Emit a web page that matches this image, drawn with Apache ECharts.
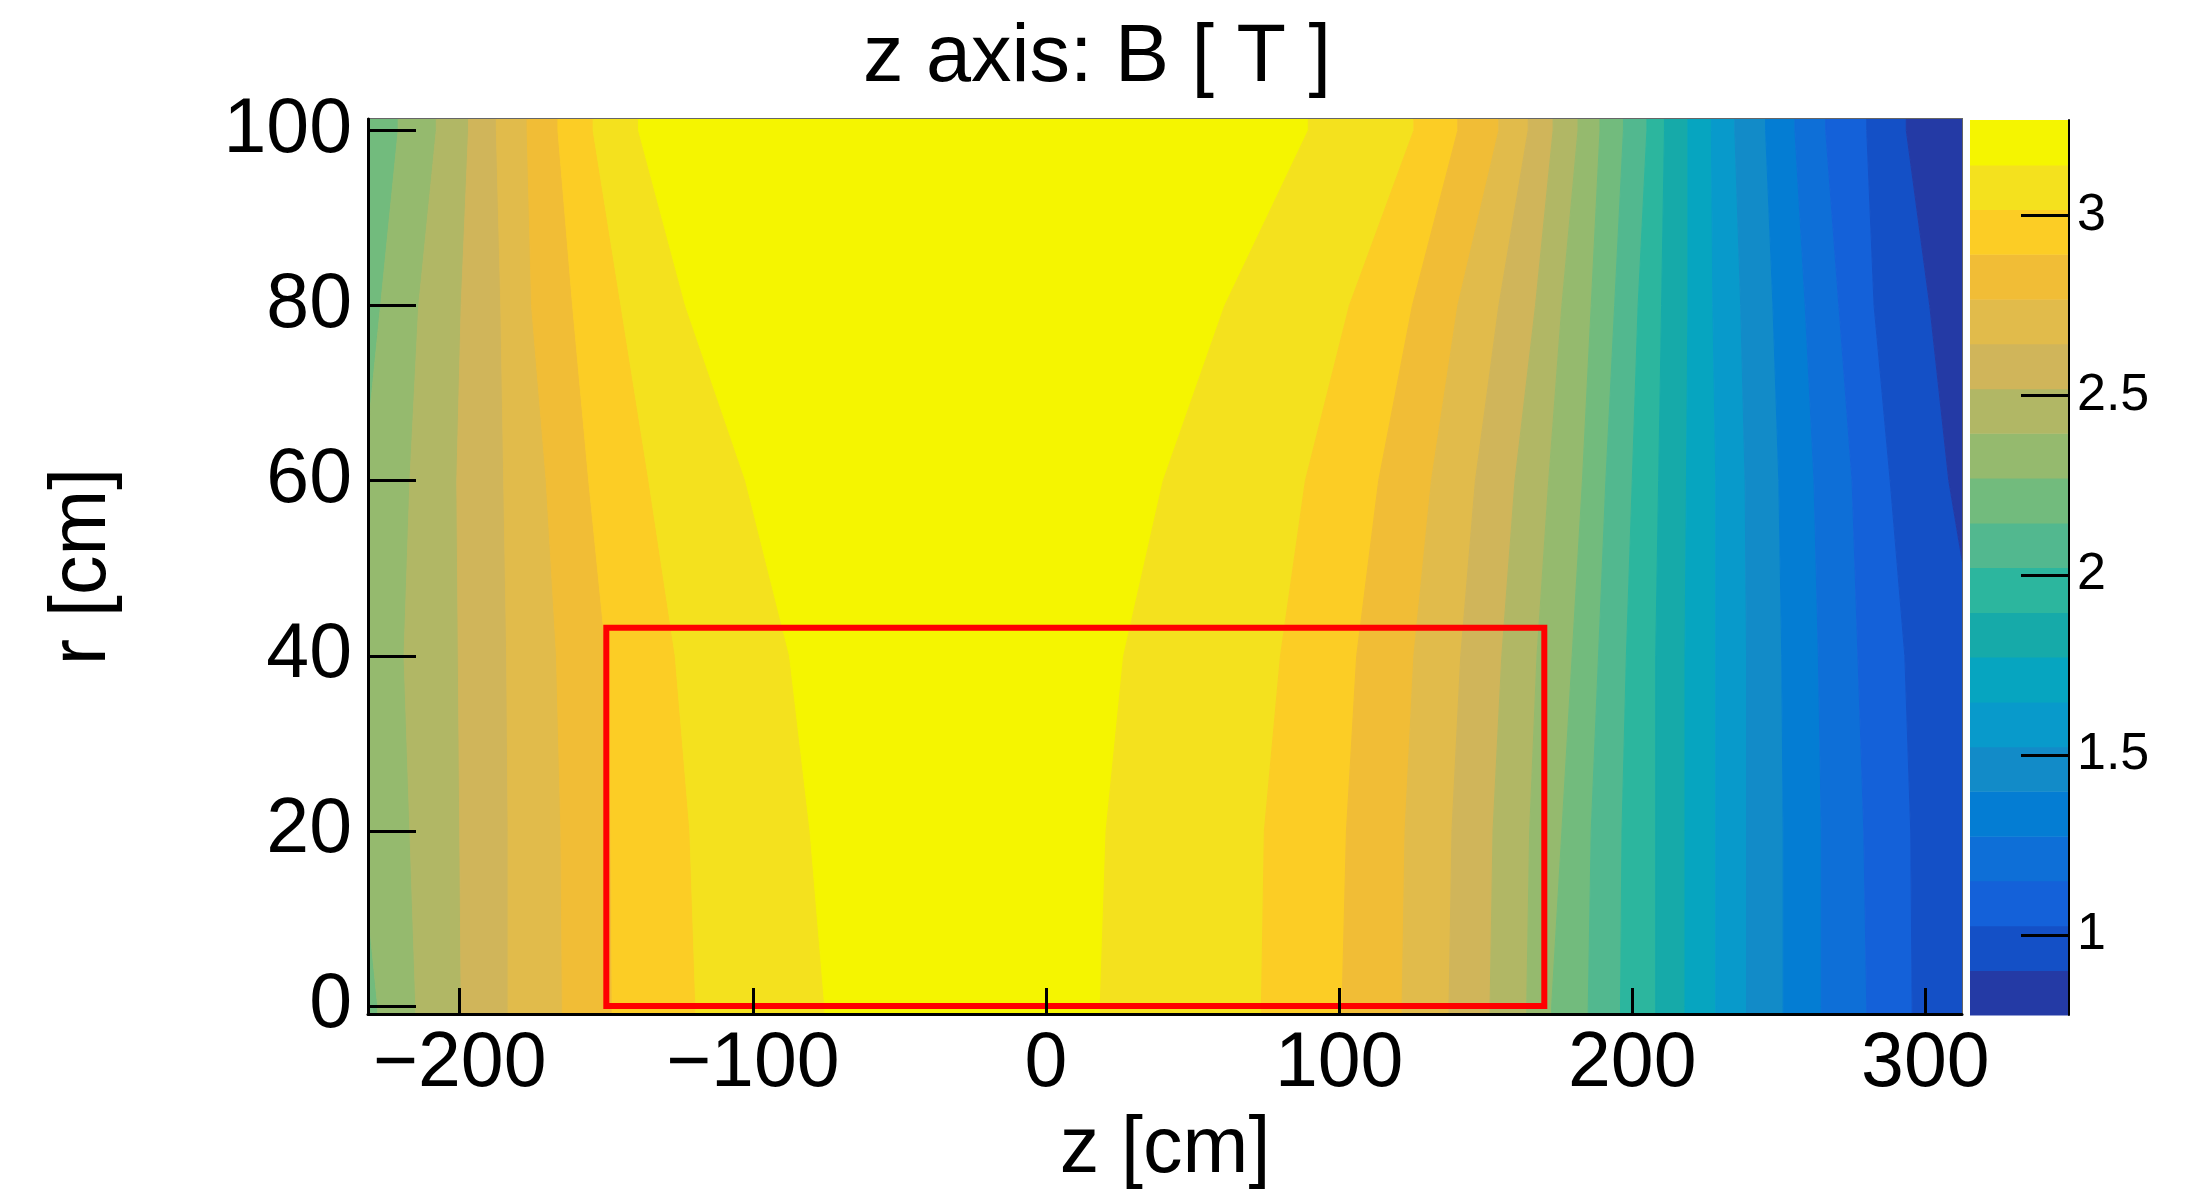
<!DOCTYPE html>
<html>
<head>
<meta charset="utf-8">
<title>z axis: B [ T ]</title>
<script src="https://cdn.jsdelivr.net/npm/echarts@6/dist/echarts.min.js"></script>
<style>
  html, body { margin: 0; padding: 0; background: #fff; }
  #chart { width: 2203px; height: 1191px; }
</style>
</head>
<body>
<div id="chart"></div>
<script>
const rKnots = [0, 20, 40, 60, 80, 100];

// palette level of each band, going left to right along z
const bandLevels = [11, 12, 13, 14, 15, 16, 17, 18, 19, 18, 17, 16, 15, 14, 13, 12, 11, 10, 9, 8, 7, 6, 5, 4, 3, 2, 1, 0];

// z (cm) of the edge between band i and band i+1, one value per r knot
const bandEdges = [
  [-228, -234, -234, -233, -227, -221],
  [-215, -217, -219, -217, -214, -208],
  [-199.5, -200, -200.5, -201, -199.5, -197],
  [-183.5, -183.5, -184, -185, -186, -187.5],
  [-165, -165.5, -167, -170.5, -175.5, -177],
  [-148, -148.5, -150, -156, -161.5, -166.5],
  [-119.5, -121.5, -126.5, -135.5, -145, -154.5],
  [-75.5, -80.5, -87.5, -102.5, -123, -139],
  [18.5, 20.5, 26.5, 40, 61, 89.5],
  [73.5, 74.5, 80, 88.5, 103.5, 125.5],
  [101, 102.5, 106, 113.5, 125, 140.5],
  [121.5, 122.5, 125.5, 131.5, 140.5, 154.5],
  [137.5, 138.5, 141.5, 146.5, 154.5, 164.5],
  [151.5, 152.5, 155.5, 160, 167, 173],
  [164, 165, 167.5, 171.5, 176, 181.5],
  [172.5, 176, 179.5, 183, 186, 189],
  [185, 186, 188.5, 191, 194, 197],
  [196, 196.5, 198, 200, 202, 205],
  [208, 208, 208, 209, 210, 211],
  [218, 218, 218, 218.5, 219, 219],
  [228.5, 228.5, 228.5, 228.5, 227.5, 227],
  [239, 239, 239, 238.5, 237, 235],
  [251.5, 251.5, 251, 250, 248, 245.5],
  [264.5, 264.5, 263.5, 262, 259, 255.5],
  [280, 279, 277, 275, 270.5, 266],
  [295.5, 295, 293, 288, 282.5, 280],
  [325, 325, 318, 308, 301.5, 293.5]
];

// contour levels (T) and their colours
const levelEdges = [0.777, 0.901, 1.025, 1.150, 1.274, 1.399, 1.523, 1.647, 1.772, 1.896, 2.021,
  2.145, 2.270, 2.394, 2.518, 2.643, 2.767, 2.892, 3.016, 3.140, 3.265];
const levelColors = ['#243aa5', '#1450c6', '#1461d9', '#0e6fd7', '#047dd3', '#128bc8', '#089acb',
  '#06a5c0', '#16aaa9', '#2cb69e', '#52b88f', '#72bb7d', '#95ba6e', '#b1b765', '#d0b55a',
  '#e1bb4b', '#f1bd36', '#fccd25', '#f4e11e', '#f5f500'];

const zTicks = [-200, -100, 0, 100, 200, 300];
const rTicks = [0, 20, 40, 60, 80, 100];
const bTicks = [1, 1.5, 2, 2.5, 3];

const zRange = [-231.3, 312.5];
const rRange = [-0.9, 101.3];

// red outline
const boxZ = [-150, 170];
const boxR = [0, 43.2];

const FONT = 'Liberation Sans';
const chart = echarts.init(document.getElementById('chart'));

function renderBand(params, api) {
  const i = api.value(0);
  const last = rKnots.length - 1;
  const zl = k => (i > 0 ? bandEdges[i - 1][k] : zRange[0] - 20);
  const zr = k => (i < bandEdges.length ? bandEdges[i][k] : zRange[1] + 20);
  const lo = rRange[0] - 3;
  const hi = rRange[1] + 3;
  const pts = [api.coord([zl(0), lo])];
  rKnots.forEach((r, k) => pts.push(api.coord([zl(k), r])));
  pts.push(api.coord([zl(last), hi]));
  pts.push(api.coord([zr(last), hi]));
  for (let k = last; k >= 0; k--) pts.push(api.coord([zr(k), rKnots[k]]));
  pts.push(api.coord([zr(0), lo]));
  const c = levelColors[bandLevels[i]];
  return { type: 'polygon', shape: { points: pts }, style: { fill: c, stroke: c, lineWidth: 1 } };
}

function renderKey(params, api) {
  const p0 = api.coord([0, api.value(1)]);
  const p1 = api.coord([1, api.value(2)]);
  const c = levelColors[api.value(0)];
  return {
    type: 'rect',
    shape: { x: p0[0], y: p1[1], width: p1[0] - p0[0], height: p0[1] - p1[1] + 0.5 },
    style: { fill: c }
  };
}

const minus = v => String(v).replace('-', '\u2212');

chart.setOption({
  animation: false,
  backgroundColor: '#fff',
  title: {
    text: 'z axis: B [ T ]',
    left: 858,
    top: 13,
    textStyle: { fontFamily: FONT, fontSize: 81, fontWeight: 'normal', color: '#000' }
  },
  grid: [
    { left: 368, top: 119, width: 1594, height: 895, show: true, borderColor: '#666', borderWidth: 2, outerBoundsMode: 'none' },
    { left: 1970, top: 120, width: 99, height: 895, outerBoundsMode: 'none' }
  ],
  xAxis: [
    {
      type: 'value', gridIndex: 0, min: zRange[0], max: zRange[1], position: 'bottom', z: 5,
      axisLine: { show: true, onZero: false, lineStyle: { color: '#000', width: 3 } },
      axisTick: { show: true, inside: true, length: 26, customValues: zTicks, lineStyle: { color: '#000', width: 3 } },
      axisLabel: { customValues: zTicks, formatter: minus, fontFamily: FONT, fontSize: 77, color: '#000', margin: 12 },
      splitLine: { show: false },
      name: 'z [cm]', nameLocation: 'middle', nameGap: 97,
      nameTextStyle: { fontFamily: FONT, fontSize: 79, color: '#000' }
    },
    { type: 'value', gridIndex: 1, min: 0, max: 1, show: false }
  ],
  yAxis: [
    {
      type: 'value', gridIndex: 0, min: rRange[0], max: rRange[1], position: 'left', z: 5,
      axisLine: { show: true, onZero: false, lineStyle: { color: '#000', width: 3 } },
      axisTick: { show: true, inside: true, length: 48, customValues: rTicks, lineStyle: { color: '#000', width: 3 } },
      axisLabel: { customValues: rTicks, fontFamily: FONT, fontSize: 77, color: '#000', margin: 16 },
      splitLine: { show: false },
      name: 'r [cm]', nameLocation: 'middle', nameGap: 245,
      nameTextStyle: { fontFamily: FONT, fontSize: 79, color: '#000' }
    },
    {
      type: 'value', gridIndex: 1, min: levelEdges[0], max: levelEdges[levelEdges.length - 1], position: 'right', z: 5,
      axisLine: { show: true, onZero: false, lineStyle: { color: '#000', width: 2 } },
      axisTick: { show: true, inside: true, length: 48, customValues: bTicks, lineStyle: { color: '#000', width: 3 } },
      axisLabel: { customValues: bTicks, fontFamily: FONT, fontSize: 52, color: '#000', margin: 8 },
      splitLine: { show: false }
    }
  ],
  series: [
    {
      type: 'custom', name: 'B', xAxisIndex: 0, yAxisIndex: 0, clip: true, z: 2,
      renderItem: renderBand,
      data: bandLevels.map((lvl, i) => [i, (levelEdges[lvl] + levelEdges[lvl + 1]) / 2])
    },
    {
      type: 'line', xAxisIndex: 0, yAxisIndex: 0, z: 3, symbol: 'none', clip: false,
      lineStyle: { color: '#ff0000', width: 6, cap: 'square', join: 'miter' },
      data: [[boxZ[0], boxR[0]], [boxZ[1], boxR[0]], [boxZ[1], boxR[1]], [boxZ[0], boxR[1]], [boxZ[0], boxR[0]]]
    },
    {
      type: 'custom', name: 'scale', xAxisIndex: 1, yAxisIndex: 1, z: 2,
      renderItem: renderKey,
      data: levelColors.map((c, k) => [k, levelEdges[k], levelEdges[k + 1]])
    }
  ]
});
</script>
</body>
</html>
